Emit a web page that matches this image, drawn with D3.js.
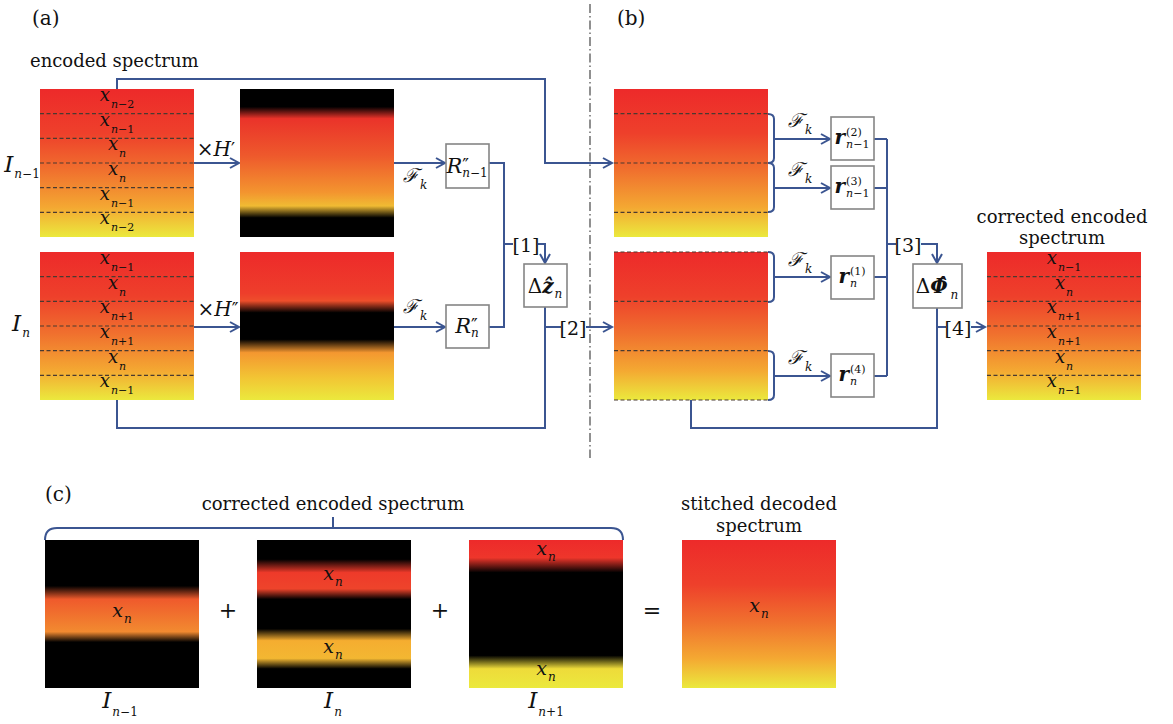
<!DOCTYPE html>
<html>
<head>
<meta charset="utf-8">
<script src="https://cdn.jsdelivr.net/npm/d3@7"></script>
<style>
  html, body { margin: 0; padding: 0; background: #fff; }
  svg { display: block; }
  text { font-family: "DejaVu Serif", "Liberation Serif", serif; fill: #111; }
</style>
</head>
<body>
<svg id="chart" width="1173" height="724"></svg>
<script>
// stripe labels (subscripts of x) for each encoded spectrum, top to bottom
const stripesPrev = ["n−2", "n−1", "n", "n", "n−1", "n−2"];
const stripesCur = ["n−1", "n", "n+1", "n+1", "n", "n−1"];
const stripesCorrected = ["n−1", "n", "n+1", "n+1", "n", "n−1"];

// colour stops [offset, colour] for the spectra
const spectrumStops = [[0, "#ed2a2a"], [0.3, "#ee402b"], [0.55, "#f0702e"], [0.8, "#f4a832"], [1, "#ebe93d"]];
const filterPrevStops = [[0, "#000"], [0.12, "#000"], [0.2, "#ea332a"], [0.45, "#ee592c"], [0.7, "#f3952f"], [0.79, "#f0bb33"], [0.87, "#000"], [1, "#000"]];
const filterCurStops = [[0, "#ed2a2a"], [0.28, "#ee3e2b"], [0.33, "#ee4e2b"], [0.41, "#000"], [0.59, "#000"], [0.68, "#f49730"], [0.85, "#f2c534"], [1, "#ebe93d"]];
const partPrevStops = [[0, "#000"], [0.31, "#000"], [0.4, "#ef5a2c"], [0.62, "#f28a30"], [0.69, "#000"], [1, "#000"]];
const partCurStops = [[0, "#000"], [0.13, "#000"], [0.22, "#ee3a2a"], [0.33, "#ee442b"], [0.4, "#000"], [0.6, "#000"], [0.68, "#f5ad30"], [0.8, "#f3b732"], [0.87, "#000"], [1, "#000"]];
const partNextStops = [[0, "#ed2a2a"], [0.12, "#ee362b"], [0.22, "#000"], [0.78, "#000"], [0.87, "#eedb3a"], [1, "#ebe93d"]];

// step labels
const stepLabels = ["[1]", "[2]", "[3]", "[4]"];

const svg = d3.select("#chart");
const defs = svg.append("defs");
const LINE = "#3b5591";
const BW = 154, BH = 148;

function gradient(id, stops) {
  const lg = defs.append("linearGradient").attr("id", id)
    .attr("x1", 0).attr("y1", 0).attr("x2", 0).attr("y2", 1);
  lg.selectAll("stop").data(stops).enter().append("stop")
    .attr("offset", d => d[0]).attr("stop-color", d => d[1]);
}
gradient("gSpec", spectrumStops);
gradient("gF1", filterPrevStops);
gradient("gF2", filterCurStops);
gradient("gC1", partPrevStops);
gradient("gC2", partCurStops);
gradient("gC3", partNextStops);

// math run: letters italic, digits and signs upright
function mathRun(t, str, size) {
  t.attr("font-size", size);
  for (const ch of str) {
    t.append("tspan")
      .attr("font-style", /[a-zA-Z]/.test(ch) ? "italic" : "normal")
      .text(ch);
  }
}
// base can be a string or a list of [text, italic, bold] parts
function label(parent, cx, y, base, sub, sup, o = {}) {
  const size = o.size || 19, subSize = o.subSize || 12;
  const g = parent.append("g");
  const b = g.append("text").attr("x", 0).attr("y", 0).attr("font-size", size);
  const parts = typeof base === "string" ? [[base, !o.upright, !!o.bold]] : base;
  parts.forEach(p => b.append("tspan")
    .attr("font-style", p[1] ? "italic" : "normal")
    .attr("font-weight", p[2] ? "bold" : "normal").text(p[0]));
  const w = b.node().getComputedTextLength();
  const gap = o.gap != null ? o.gap : 1;
  let extra = 0;
  if (sub) {
    const s = g.append("text").attr("x", w + gap).attr("y", o.subDy != null ? o.subDy : 7);
    mathRun(s, sub, subSize);
    extra = Math.max(extra, s.node().getComputedTextLength());
  }
  if (sup) {
    const s = g.append("text").attr("x", w + (o.supGap != null ? o.supGap : gap)).attr("y", o.supDy != null ? o.supDy : -8);
    mathRun(s, sup, o.supSize || subSize);
    extra = Math.max(extra, s.node().getComputedTextLength());
  }
  const total = w + gap + extra;
  const anchor = o.anchor || "middle";
  const dx = anchor === "middle" ? -total / 2 : anchor === "end" ? -total : 0;
  g.attr("transform", `translate(${cx + dx},${y})`);
  return g;
}

function spectrumBox(x, y, fill, stripes, dashed) {
  svg.append("rect").attr("x", x).attr("y", y).attr("width", BW).attr("height", BH)
    .attr("fill", `url(#${fill})`);
  if (stripes) {
    const band = d3.scaleBand().domain(d3.range(stripes.length)).range([y, y + BH]);
    svg.append("g").selectAll("line").data(d3.range(1, stripes.length)).enter().append("line")
      .attr("x1", x).attr("x2", x + BW)
      .attr("y1", d => band(d)).attr("y2", d => band(d))
      .attr("stroke", "#4a3a30").attr("stroke-width", 1.2).attr("stroke-dasharray", "4,2.5");
    stripes.forEach((s, i) => label(svg, x + 77, band(i) + 12, "x", s, null, { size: 18, subSize: 11, subDy: 7 }));
  }
  if (dashed) {
    svg.append("g").selectAll("line").data(dashed).enter().append("line")
      .attr("x1", x).attr("x2", x + BW)
      .attr("y1", d => y + d * BH).attr("y2", d => y + d * BH)
      .attr("stroke", "#4a3a30").attr("stroke-width", 1.2).attr("stroke-dasharray", "4,2.5");
  }
}

function path(d) {
  svg.append("path").attr("d", d).attr("fill", "none")
    .attr("stroke", LINE).attr("stroke-width", 2).attr("stroke-linejoin", "miter");
}
function arrowRight(x, y) { path(`M${x - 9},${y - 5} L${x},${y} L${x - 9},${y + 5}`); }
function arrowDown(x, y) { path(`M${x - 5},${y - 9} L${x},${y} L${x + 5},${y - 9}`); }
function box(x, y, w, h) {
  svg.append("rect").attr("x", x).attr("y", y).attr("width", w).attr("height", h)
    .attr("fill", "#fff").attr("stroke", "#858585").attr("stroke-width", 1.6);
}
function txt(x, y, s, size, anchor, fill) {
  svg.append("text").attr("x", x).attr("y", y).attr("font-size", size)
    .attr("text-anchor", anchor || "start").attr("fill", fill || "#111").text(s);
}
function fk(x, y) {
  svg.append("text").attr("x", x).attr("y", y).attr("font-size", 19)
    .attr("font-style", "italic").text("ℱ");
  svg.append("text").attr("x", x + 17).attr("y", y + 7).attr("font-size", 12)
    .attr("font-style", "italic").text("k");
}

// ---------- (a) ----------
txt(32, 25, "(a)", 20);
txt(30, 67, "encoded spectrum", 18);

// connectors first so boxes sit on top
path("M117,89 V79 H545 V163 H611"); arrowRight(612, 163);
path("M194,163 H238"); arrowRight(239, 163);
path("M194,327 H238"); arrowRight(239, 327);
path("M393,163 H444"); arrowRight(445, 163);
path("M393,327 H444"); arrowRight(445, 327);
path("M489,163 H504 V327 H489");
path("M504,244 H513");
path("M538,244 H545 V262"); arrowDown(545, 263);
path("M545,307 V428 H117 V400");
path("M545,327 H561");
path("M586,327 H611"); arrowRight(612, 327);

spectrumBox(40, 89, "gSpec", stripesPrev);
spectrumBox(240, 89, "gF1");
spectrumBox(40, 252, "gSpec", stripesCur);
spectrumBox(240, 252, "gF2");

label(svg, 22, 172, "I", "n−1", null, { size: 23, subSize: 12, subDy: 6 });
label(svg, 21, 331, "I", "n", null, { size: 23, subSize: 12, subDy: 6 });
label(svg, 216, 156, [["×", false, false], ["H", true, false]], null, "′", { size: 20, supSize: 18, supDy: 0, gap: 0 });
label(svg, 218, 316, [["×", false, false], ["H", true, false]], null, "″", { size: 20, supSize: 18, supDy: 0, gap: 0 });

fk(403, 182);
fk(403, 313);

box(446, 144, 43, 44);
box(446, 305, 43, 43);
label(svg, 467, 173, "R", "n−1", "″", { size: 21, subSize: 12, subDy: 4, supSize: 18, supDy: -1, gap: 0 });
label(svg, 467, 333, "R", "n", "″", { size: 21, subSize: 12, subDy: 4, supSize: 18, supDy: -1, gap: 0 });

txt(526, 252, stepLabels[0], 19, "middle");
txt(573, 335, stepLabels[1], 19, "middle");

box(524, 264, 43, 43);
label(svg, 545, 293, [["Δ", false, false], ["ẑ", true, true]], "n", null, { size: 20, subSize: 12, subDy: 5 });

// dash-dot separator
svg.append("line").attr("x1", 590).attr("x2", 590).attr("y1", 4).attr("y2", 458)
  .attr("stroke", "#555").attr("stroke-width", 1.3).attr("stroke-dasharray", "9,3,1.5,3");

// ---------- (b) ----------
txt(617, 25, "(b)", 20);

// braces and arrows to r boxes
function brace(y1, y2, ym) {
  path(`M768,${y1} Q774,${y1} 774,${y1 + 5} V${y2 - 5} Q774,${y2} 768,${y2}`);
  path(`M774,${ym} H829`);
  arrowRight(830, ym);
}
brace(114, 163, 139);
brace(163, 212, 188);
brace(252, 302, 277);
brace(351, 400, 376);
fk(788, 127); fk(788, 176); fk(788, 266); fk(788, 364);

path("M874,139 H887 M874,188 H887 M874,277 H887 M874,376 H887 M887,139 V376");
path("M887,244 H896");
path("M921,244 H937 V262"); arrowDown(937, 263);
path("M937,308 V428 H691 V400");
path("M937,327 H946");
path("M971,327 H984"); arrowRight(985, 327);

spectrumBox(614, 89, "gSpec", null, [1 / 6, 3 / 6, 5 / 6]);
spectrumBox(614, 252, "gSpec", null, [0, 2 / 6, 4 / 6, 1]);

const rBoxes = [
  { y: 117, sup: "(2)", sub: "n−1" },
  { y: 166, sup: "(3)", sub: "n−1" },
  { y: 256, sup: "(1)", sub: "n" },
  { y: 354, sup: "(4)", sub: "n" }
];
rBoxes.forEach(r => {
  box(831, r.y, 43, 43);
  label(svg, 852, r.y + 27, "r", r.sub, r.sup, { size: 20, subSize: 11, subDy: 4, supDy: -8, bold: true });
});

txt(908, 252, stepLabels[2], 19, "middle");
txt(958, 335, stepLabels[3], 19, "middle");

box(913, 264, 49, 44);
label(svg, 937, 293, [["Δ", false, false], ["Φ̂", true, true]], "n", null, { size: 20, subSize: 12, subDy: 6, gap: 3 });

// corrected encoded spectrum
txt(1062, 223, "corrected encoded", 18, "middle");
txt(1062, 244, "spectrum", 18, "middle");
spectrumBox(987, 252, "gSpec", stripesCorrected);

// ---------- (c) ----------
txt(45, 501, "(c)", 20);
txt(333, 510, "corrected encoded spectrum", 18, "middle");
txt(759, 510, "stitched decoded", 18, "middle");
txt(759, 532, "spectrum", 18, "middle");
path("M45,540 Q45,528 57,528 H611 Q623,528 623,540 M333,528 V517");

spectrumBox(45, 540, "gC1");
spectrumBox(257, 540, "gC2");
spectrumBox(469, 540, "gC3");
spectrumBox(682, 540, "gSpec");

label(svg, 122, 617, "x", "n", null, { size: 19, subSize: 12, subDy: 6 });
label(svg, 333, 580, "x", "n", null, { size: 19, subSize: 12, subDy: 6 });
label(svg, 333, 653, "x", "n", null, { size: 19, subSize: 12, subDy: 6 });
label(svg, 546, 555, "x", "n", null, { size: 19, subSize: 12, subDy: 6 });
label(svg, 546, 675, "x", "n", null, { size: 19, subSize: 12, subDy: 6 });
label(svg, 759, 612, "x", "n", null, { size: 19, subSize: 12, subDy: 6 });

txt(228, 618, "+", 22, "middle", "#555");
txt(440, 618, "+", 22, "middle", "#555");
txt(652, 618, "=", 22, "middle", "#555");

label(svg, 120, 708, "I", "n−1", null, { size: 23, subSize: 12, subDy: 8 });
label(svg, 333, 708, "I", "n", null, { size: 23, subSize: 12, subDy: 8 });
label(svg, 546, 708, "I", "n+1", null, { size: 23, subSize: 12, subDy: 8 });
</script>
</body>
</html>
